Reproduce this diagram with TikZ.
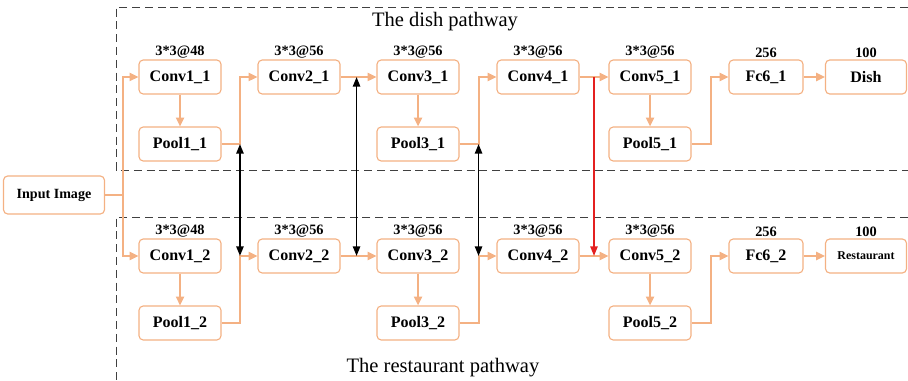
\documentclass[tikz,border=0pt]{standalone}
\usepackage{fontspec}
\setmainfont{Liberation Serif}
\usetikzlibrary{arrows.meta,positioning,calc}
\definecolor{NetOrange}{RGB}{244,177,131}
\definecolor{NetRed}{RGB}{228,32,32}
\definecolor{NetDash}{RGB}{64,64,64}
\tikzset{
  net/box/.style={
    draw=NetOrange,
    line width=0.8pt,
    rounded corners=3pt,
    fill=white,
    align=center,
    text=black,
    minimum width=2.05cm,
    minimum height=0.85cm,
    inner sep=2pt,
    font=\fontsize{11.4}{13}\selectfont\bfseries
  },
  net/tag/.style={font=\fontsize{10.2}{12}\selectfont\bfseries, inner sep=1pt},
  net/arrow/.style={-{Triangle[length=2.2mm,width=2mm]}, line width=1.4pt, draw=NetOrange},
  net/line/.style={line width=1.4pt, draw=NetOrange},
  net/link/.style={{Triangle[length=2.4mm,width=1.8mm]}-{Triangle[length=2.4mm,width=1.8mm]}, line width=1.3pt, draw=black},
  net/redlink/.style={-{Triangle[length=2.4mm,width=1.8mm]}, line width=1.3pt, draw=NetRed},
  net/frame/.style={draw=NetDash, line width=0.6pt, dash pattern=on 2mm off 1.2mm},
  net/title/.style={font=\fontsize{14.6}{17}\selectfont, align=center}
}

\begin{document}
\begin{tikzpicture}[x=1cm,y=1cm]
  \useasboundingbox (0,0) rectangle (22.7,9.5);

  % pathway frames
  \draw[net/frame] (22.7,9.325) -- (2.9,9.325) -- (2.9,5.25) -- (22.7,5.25);
  \draw[net/frame] (22.7,4.075) -- (2.9,4.075) -- (2.9,0);
  \node[net/title] (tdish) at (11.125,8.95) {The dish pathway};
  \node[net/title] (trest) at (11.075,0.3) {The restaurant pathway};

  % input
  \node[net/box,minimum width=2.525cm,minimum height=0.95cm,font=\fontsize{10}{12}\selectfont\bfseries] (input) at (1.35,4.625) {Input Image};

  % dish pathway
  \node[net/box,label={[net/tag]above:3*3@48}] (conv11) at (4.5,7.575) {Conv1\_1};
  \node[net/box] (pool11) at (4.5,5.9) {Pool1\_1};
  \node[net/box,label={[net/tag]above:3*3@56}] (conv21) at (7.475,7.575) {Conv2\_1};
  \node[net/box,label={[net/tag]above:3*3@56}] (conv31) at (10.45,7.575) {Conv3\_1};
  \node[net/box] (pool31) at (10.45,5.9) {Pool3\_1};
  \node[net/box,label={[net/tag]above:3*3@56}] (conv41) at (13.45,7.575) {Conv4\_1};
  \node[net/box,label={[net/tag]above:3*3@56}] (conv51) at (16.25,7.575) {Conv5\_1};
  \node[net/box] (pool51) at (16.25,5.9) {Pool5\_1};
  \node[net/box,minimum width=1.85cm,label={[net/tag]above:256}] (fc61) at (19.15,7.575) {Fc6\_1};
  \node[net/box,minimum width=2.025cm,label={[net/tag]above:100}] (dish) at (21.65,7.575) {Dish};

  % restaurant pathway
  \node[net/box,label={[net/tag]above:3*3@48}] (conv12) at (4.5,3.1) {Conv1\_2};
  \node[net/box] (pool12) at (4.5,1.425) {Pool1\_2};
  \node[net/box,label={[net/tag]above:3*3@56}] (conv22) at (7.475,3.1) {Conv2\_2};
  \node[net/box,label={[net/tag]above:3*3@56}] (conv32) at (10.45,3.1) {Conv3\_2};
  \node[net/box] (pool32) at (10.45,1.425) {Pool3\_2};
  \node[net/box,label={[net/tag]above:3*3@56}] (conv42) at (13.45,3.1) {Conv4\_2};
  \node[net/box,label={[net/tag]above:3*3@56}] (conv52) at (16.25,3.1) {Conv5\_2};
  \node[net/box] (pool52) at (16.25,1.425) {Pool5\_2};
  \node[net/box,minimum width=1.85cm,label={[net/tag]above:256}] (fc62) at (19.15,3.1) {Fc6\_2};
  \node[net/box,minimum width=2.025cm,font=\fontsize{8.5}{10}\selectfont\bfseries,label={[net/tag]above:100}] (rest) at (21.65,3.1) {Restaurant};

  % input split
  \coordinate (split) at ($(input.east)+(0.45,0)$);
  \draw[net/line] (input.east) -- (split);
  \draw[net/arrow] (split) |- (conv11.west);
  \draw[net/arrow] (split) |- (conv12.west);

  % orange flow, both pathways
  \foreach \p in {1,2}{
    \draw[net/arrow] (conv1\p) -- (pool1\p);
    \draw[net/arrow] (pool1\p.east) -- ++(0.46,0) |- (conv2\p.west);
    \draw[net/arrow] (conv2\p) -- (conv3\p);
    \draw[net/arrow] (conv3\p) -- (pool3\p);
    \draw[net/arrow] (pool3\p.east) -- ++(0.475,0) |- (conv4\p.west);
    \draw[net/arrow] (conv4\p) -- (conv5\p);
    \draw[net/arrow] (conv5\p) -- (pool5\p);
    \draw[net/arrow] (pool5\p.east) -- ++(0.475,0) |- (fc6\p.west);
  }
  \draw[net/arrow] (fc61) -- (dish);
  \draw[net/arrow] (fc62) -- (rest);

  % sharing links
  \coordinate (s1a) at ($(pool11.east)+(0.46,0)$);
  \coordinate (s1b) at (s1a |- conv22.west);
  \coordinate (s2a) at ($(conv21.east)+(0.4,0)$);
  \coordinate (s2b) at (s2a |- conv22.west);
  \coordinate (s3a) at ($(pool31.east)+(0.475,0)$);
  \coordinate (s3b) at (s3a |- conv42.west);
  \coordinate (s4a) at ($(conv41.east)!.5!(conv51.west)$);
  \coordinate (s4b) at (s4a |- conv52.west);
  \draw[net/link] (s1a) -- (s1b);
  \draw[net/link] (s2a) -- (s2b);
  \draw[net/link] (s3a) -- (s3b);
  \draw[net/redlink] (s4a) -- (s4b);
\end{tikzpicture}
\end{document}
